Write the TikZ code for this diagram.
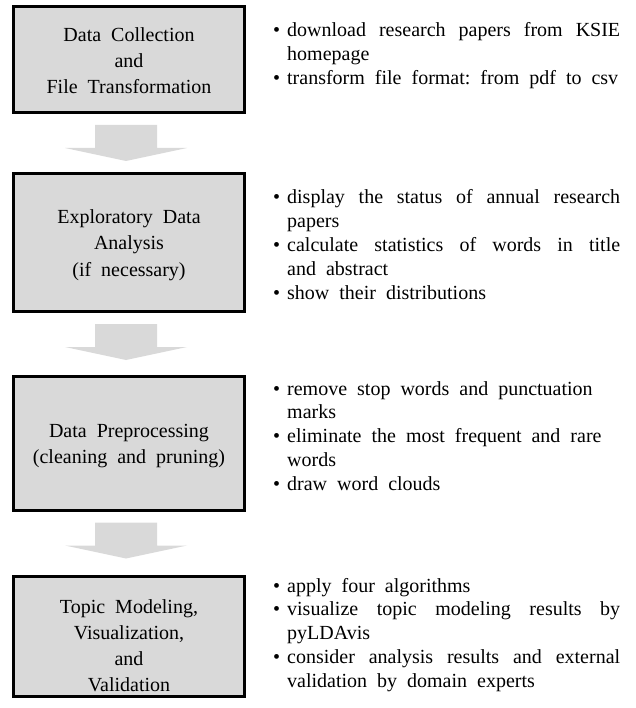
\documentclass[tikz,border=0pt]{standalone}
\usepackage{fontspec}
\setmainfont{Liberation Serif}
\usetikzlibrary{calc}
\definecolor{boxgray}{RGB}{217,217,217}
\definecolor{arrowgray}{RGB}{217,217,217}
\newcommand\bul{\makebox[14pt][l]{\textbullet}}
\newcommand\itm{\par\noindent\hangindent=14pt\hangafter=1\bul}
\newcommand\notefont{\fontsize{20}{23.8}\selectfont\frenchspacing\spaceskip=0.5em plus 8em minus 0.15em\relax\parfillskip=0pt plus 1fill\relax}
\newcommand\boxfont{\fontsize{20}{26}\selectfont\frenchspacing\spaceskip=0.5em\relax}
\newcommand\notesbox[1]{\begin{minipage}[t]{347pt}\notefont #1\par\end{minipage}}
\newcommand\labelbox[1]{\begin{minipage}[t]{231pt}\centering\boxfont #1\par\end{minipage}}
\begin{document}
\begin{tikzpicture}[x=1pt,y=-1pt,
  stepbox/.style={draw=black, line width=3pt, fill=boxgray, rectangle, minimum width=231pt, inner sep=0pt},
  boxlabel/.style={inner sep=0pt, anchor=base},
  notes/.style={inner sep=0pt, anchor=base west},
  flow/.pic={\fill[arrowgray] (-31,-18) -- (31,-18) -- (31,5) -- (61,5) -- (0,18) -- (-61,5) -- (-31,5) -- cycle;}
]
\useasboundingbox (0,0) rectangle (635,708);
% boxes
\node[stepbox, minimum height=106pt] (b1) at (129,59.5) {};
\node[stepbox, minimum height=138pt] (b2) at (129,242.5) {};
\node[stepbox, minimum height=134pt] (b3) at (129,443.5) {};
\node[stepbox, minimum height=120pt] (b4) at (129,636.5) {};
% box labels
\node[boxlabel] (t1) at (129,42) {\labelbox{Data Collection\\and\\File Transformation}};
\node[boxlabel] (t2) at (129,224) {\labelbox{Exploratory Data\\Analysis\\(if necessary)}};
\node[boxlabel] (t3) at (129,437) {\labelbox{Data Preprocessing\\(cleaning and pruning)}};
\node[boxlabel] (t4) at (129,613) {\labelbox{Topic Modeling,\\Visualization,\\and\\Validation}};
% arrows
\pic at ($(b1.south)!0.5!(b2.north)+(-3,0)$) {flow};
\pic at ($(b2.south)!0.5!(b3.north)+(-3,-2)$) {flow};
\pic at ($(b3.south)!0.5!(b4.north)+(-3,-3)$) {flow};
% notes
\node[notes] (n1) at (273,37) {\notesbox{\itm download research papers from KSIE\linebreak homepage\itm transform file format: from pdf to csv}};
\node[notes] (n2) at (273,204) {\notesbox{\itm display the status of annual research\linebreak papers\itm calculate statistics of words in title\linebreak and abstract\itm show their distributions}};
\node[notes] (n3) at (273,395) {\notesbox{\itm remove stop words and punctuation\newline marks\itm eliminate the most frequent and rare\newline words\itm draw word clouds}};
\node[notes] (n4) at (273,592) {\notesbox{\itm apply four algorithms\itm visualize topic modeling results by\linebreak pyLDAvis\itm consider analysis results and external\linebreak validation by domain experts}};
\end{tikzpicture}
\end{document}
